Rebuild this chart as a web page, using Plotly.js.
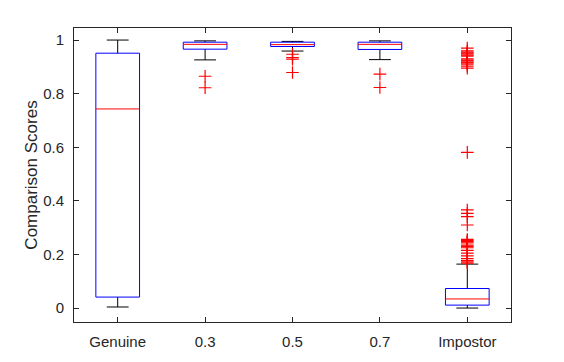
<!DOCTYPE html>
<html>
<head>
<meta charset="utf-8">
<script src="https://cdn.plot.ly/plotly-3.0.1.min.js"></script>
<style>html,body{margin:0;padding:0;background:#fff;}#chart{width:564px;height:362px;}</style>
</head>
<body>
<div id="chart"></div>
<script>
// ---- data ----
const categories = ['Genuine', '0.3', '0.5', '0.7', 'Impostor'];
const lowerWhisker = [0.004, 0.926, 0.959, 0.927, 0.000];
const q1 = [0.041, 0.966, 0.976, 0.965, 0.011];
const medians = [0.743, 0.984, 0.983, 0.984, 0.034];
const q3 = [0.951, 0.992, 0.992, 0.992, 0.073];
const upperWhisker = [1.000, 0.997, 0.995, 0.997, 0.164];
const outliersGenuine = [];
const outliers03 = [0.865, 0.822];
const outliers05 = [0.947, 0.935, 0.929, 0.879];
const outliers07 = [0.873, 0.823];
const outliersImpostor = [0.970, 0.960, 0.955, 0.951, 0.948, 0.944, 0.940, 0.930, 0.925, 0.922, 0.918, 0.915, 0.910, 0.903, 0.895,
  0.581, 0.366, 0.353, 0.341, 0.310,
  0.256, 0.252, 0.248, 0.243, 0.235, 0.230, 0.225, 0.215, 0.205, 0.195, 0.185, 0.178, 0.172, 0.168];
const outliers = [outliersGenuine, outliers03, outliers05, outliers07, outliersImpostor];

// ---- build traces ----
const boxHalf = 0.25, capHalf = 0.125;
const bx = [], by = [], mx = [], my = [], wx = [], wy = [], ox = [], oy = [];
categories.forEach((c, k) => {
  const i = k + 1;
  bx.push(i - boxHalf, i + boxHalf, i + boxHalf, i - boxHalf, i - boxHalf, null);
  by.push(q1[k], q1[k], q3[k], q3[k], q1[k], null);
  mx.push(i - boxHalf, i + boxHalf, null);
  my.push(medians[k], medians[k], null);
  // whiskers
  wx.push(i, i, null, i, i, null);
  wy.push(q3[k], upperWhisker[k], null, q1[k], lowerWhisker[k], null);
  // caps
  wx.push(i - capHalf, i + capHalf, null, i - capHalf, i + capHalf, null);
  wy.push(upperWhisker[k], upperWhisker[k], null, lowerWhisker[k], lowerWhisker[k], null);
  outliers[k].forEach(v => { ox.push(i); oy.push(v); });
});

const traces = [
  {x: wx, y: wy, mode: 'lines', line: {color: '#000000', width: 1}, hoverinfo: 'skip'},
  {x: bx, y: by, mode: 'lines', line: {color: '#0000ff', width: 1}, hoverinfo: 'skip'},
  {x: mx, y: my, mode: 'lines', line: {color: '#ff0000', width: 1}, hoverinfo: 'skip'},
  {x: ox, y: oy, mode: 'markers', marker: {symbol: 'cross-thin-open', size: 9, color: '#ff0000', line: {color: '#ff0000', width: 1.2}}, hoverinfo: 'skip'}
];

const axisCommon = {
  showgrid: false, zeroline: false, showline: true, mirror: 'ticks',
  linecolor: '#262626', linewidth: 1, ticks: 'inside', ticklen: 5, tickwidth: 1, tickcolor: '#262626',
  tickfont: {family: 'Liberation Sans, Arial, sans-serif', size: 15, color: '#262626'}
};

const layout = {
  width: 564, height: 362,
  margin: {l: 74, r: 53, t: 28, b: 40},
  paper_bgcolor: '#ffffff', plot_bgcolor: '#ffffff',
  showlegend: false,
  xaxis: Object.assign({}, axisCommon, {
    range: [0.5, 5.5], tickmode: 'array', tickvals: [1, 2, 3, 4, 5], ticktext: categories,
    ticklabelstandoff: 6
  }),
  yaxis: Object.assign({}, axisCommon, {
    range: [-0.052, 1.045], tickmode: 'array', tickvals: [0, 0.2, 0.4, 0.6, 0.8, 1],
    ticktext: ['0', '0.2', '0.4', '0.6', '0.8', '1'],
    ticklabelstandoff: 6,
    title: {text: 'Comparison Scores', font: {family: 'Liberation Sans, Arial, sans-serif', size: 17, color: '#262626'}, standoff: 1}
  })
};

Plotly.newPlot('chart', traces, layout, {displayModeBar: false, staticPlot: true});
</script>
</body>
</html>
